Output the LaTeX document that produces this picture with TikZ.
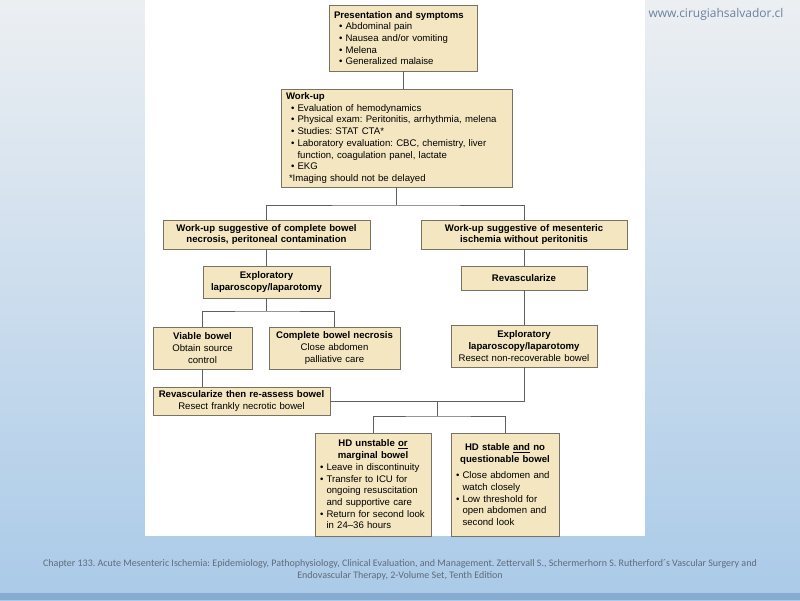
\documentclass[tikz,border=0pt]{standalone}
\usepackage{fontspec}
\setmainfont{Liberation Sans}
\newfontfamily\footfont{Carlito}
\newfontfamily\webfont{Open Sans}
\usetikzlibrary{shadows}
\frenchspacing

\definecolor{boxfill}{RGB}{243,230,192}
\definecolor{boxline}{RGB}{118,114,100}
\definecolor{linkline}{RGB}{95,95,95}
\definecolor{bgtop}{RGB}{236,239,242}
\definecolor{bgmid}{RGB}{220,230,238}
\definecolor{bgbot}{RGB}{170,202,232}
\definecolor{bandblue}{RGB}{135,172,210}
\definecolor{foottext}{RGB}{95,108,122}
\definecolor{webtext}{RGB}{105,130,155}

\newcommand{\itm}{\textbullet\ }
\newcommand{\ind}{\phantom{\textbullet\ }}
\newcommand{\ctr}[1]{\makebox[\hsize][c]{#1}}

\tikzset{
  flowbox/.style={draw=boxline, fill=boxfill, line width=0.7pt,
    inner xsep=5pt, inner ysep=2pt, font=\fontsize{9.6}{11.7}\selectfont,
    drop shadow={shadow xshift=1pt, shadow yshift=-1pt, fill=black!40, opacity=0.5}},
  headbox/.style={flowbox, align=center, font=\fontsize{9.6}{11.7}\selectfont\bfseries},
  link/.style={draw=linkline, line width=0.8pt}
}

\begin{document}
\begin{tikzpicture}[x=1pt,y=-1pt]
        \useasboundingbox (0,0) rectangle (800,600);

        % background and page
        \shade[top color=bgtop, middle color=bgmid, bottom color=bgbot] (0,0) rectangle (800,600);
        \fill[bandblue] (0,593) rectangle (800,600);
        \fill[white] (145,0) rectangle (645,536);

        \node[anchor=west, font=\webfont\fontsize{12}{14}\selectfont, text=webtext] (web) at (645,14) {www.cirugiahsalvador.cl};

        % flow chart boxes
        \node[flowbox, align=left, text width=138pt, minimum height=66pt] (pres) at (403,38) {%
            \textbf{Presentation and symptoms}\\
            \hspace*{5pt}\itm Abdominal pain\\
            \hspace*{5pt}\itm Nausea and/or vomiting\\
            \hspace*{5pt}\itm Melena\\
            \hspace*{5pt}\itm Generalized malaise};

        \node[flowbox, align=left, text width=221pt, minimum height=98pt] (work) at (396.5,138) {%
            \textbf{Work-up}\\
            \hspace*{5pt}\itm Evaluation of hemodynamics\\
            \hspace*{5pt}\itm Physical exam: Peritonitis, arrhythmia, melena\\
            \hspace*{5pt}\itm Studies: STAT CTA*\\
            \hspace*{5pt}\itm Laboratory evaluation: CBC, chemistry, liver\\
            \hspace*{5pt}\ind function, coagulation panel, lactate\\
            \hspace*{5pt}\itm EKG\\
            \hspace*{3pt}*Imaging should not be delayed};

        \node[headbox, text width=197pt, minimum height=29pt] (necro) at (266.5,234.5)
            {Work-up suggestive of complete bowel\\necrosis, peritoneal contamination};
        \node[headbox, text width=196pt, minimum height=29pt] (ischem) at (524,234.5)
            {Work-up suggestive of mesenteric\\ischemia without peritonitis};

        \node[headbox, text width=117pt, minimum height=32pt] (explL) at (266.5,282)
            {Exploratory\\laparoscopy/laparotomy};
        \node[headbox, text width=116pt, minimum height=24pt] (revasc) at (524,278)
            {Revascularize};

        \node[flowbox, align=center, text width=89pt, minimum height=42pt] (viable) at (202.5,348)
            {\textbf{Viable bowel}\\Obtain source\\control};
        \node[flowbox, align=center, text width=121pt, minimum height=42pt] (complete) at (334.5,348)
            {\textbf{Complete bowel necrosis}\\Close abdomen\\palliative care};
        \node[flowbox, align=center, text width=136pt, minimum height=42pt] (explR) at (524,346)
            {\textbf{Exploratory}\\\textbf{laparoscopy/laparotomy}\\Resect non-recoverable bowel};

        \node[flowbox, align=center, text width=167pt, minimum height=28pt] (reassess) at (241.5,401)
            {\textbf{Revascularize then re-assess bowel}\\Resect frankly necrotic bowel};

        \node[flowbox, align=left, text width=106pt, minimum height=103pt] (unstable) at (373,484.5) {%
            \ctr{\textbf{HD unstable \underline{or}}}\\
            \ctr{\textbf{marginal bowel}}\\
            \itm Leave in discontinuity\\
            \itm Transfer to ICU for\\
            \ind ongoing resuscitation\\
            \ind and supportive care\\
            \itm Return for second look\\
            \ind in 24--36 hours};
        \node[flowbox, align=left, text width=98pt, minimum height=103pt] (stable) at (505,484.5) {%
            \ctr{\textbf{HD stable \underline{and} no}}\\
            \ctr{\textbf{questionable bowel}}\\[5pt]
            \itm Close abdomen and\\
            \ind watch closely\\
            \itm Low threshold for\\
            \ind open abdomen and\\
            \ind second look};

        % connectors
        \coordinate (split1) at (396.5,205);
        \coordinate (split2) at (266.5,311);
        \coordinate (merge) at (437,401);
        \coordinate (split3) at (437,416);

        \draw[link] (pres.south) -- (pres.south |- work.north);
        \draw[link] (work.south) -- (split1);
        \draw[link] (necro.north) |- (split1) -| (ischem.north);
        \draw[link] (necro.south) -- (explL.north);
        \draw[link] (ischem.south) -- (revasc.north);
        \draw[link] (revasc.south) -- (explR.north);
        \draw[link] (explL.south) -- (split2);
        \draw[link] (viable.north) |- (split2) -| (complete.north);
        \draw[link] (viable.south) -- (viable.south |- reassess.north);
        \draw[link] (reassess.east) -| (explR.south);
        \draw[link] (merge) -- (split3);
        \draw[link] (unstable.north) |- (split3) -| (stable.north);

        % source line
        \node[align=center, font=\footfont\fontsize{10}{12.5}\selectfont, text=foottext] (source) at (400,570)
            {Chapter 133. Acute Mesenteric Ischemia: Epidemiology, Pathophysiology, Clinical Evaluation, and Management. Zettervall S., Schermerhorn S. Rutherford´s Vascular Surgery and\\
             Endovascular Therapy, 2-Volume Set, Tenth Edition};
\end{tikzpicture}
\end{document}
